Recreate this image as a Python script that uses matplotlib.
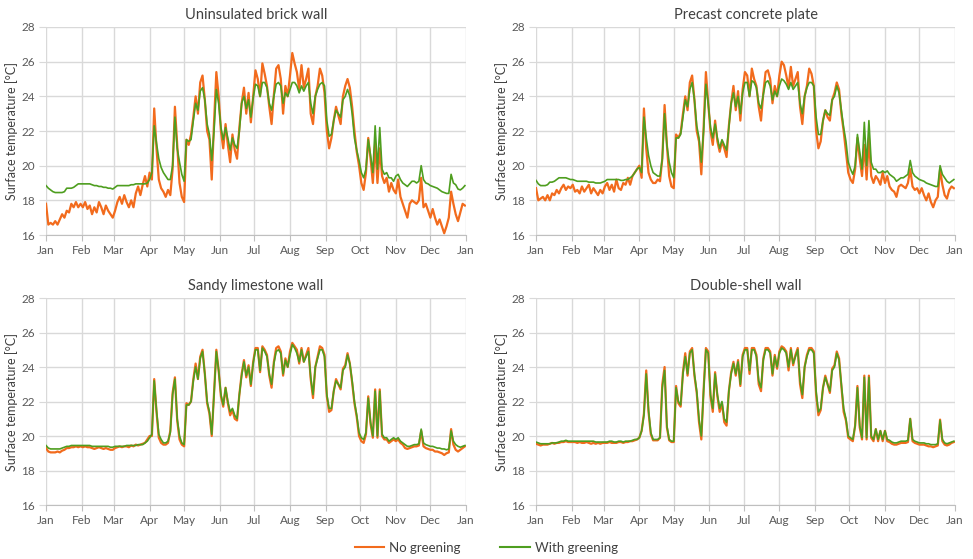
import numpy as np
import matplotlib
matplotlib.use("Agg")
import matplotlib.pyplot as plt
from matplotlib.lines import Line2D

plt.rcParams['font.family'] = ['Lato', 'DejaVu Sans']

# surface temperatures, one value every 2 days (day 0, 2, ..., 364)
brick_no = [
    17.8, 16.6, 16.7, 16.6, 16.8, 16.6, 16.9, 17.2, 17.0, 17.4, 17.3, 17.8, 17.6, 17.9, 17.6,
    17.8, 17.6, 17.9, 17.5, 17.7, 17.2, 17.6, 17.3, 17.9, 17.6, 17.2, 17.7, 17.4, 17.2, 17.0,
    17.4, 17.9, 18.2, 17.8, 18.3, 17.9, 17.6, 18.0, 17.6, 18.4, 18.8, 18.3, 18.9, 19.4, 18.8,
    19.6, 19.2, 23.3, 21.0, 19.2, 18.7, 18.5, 18.2, 18.6, 18.3, 19.8, 23.4, 21.2, 19.0, 18.2,
    17.9, 21.5, 21.2, 21.8, 22.8, 24.0, 23.0, 24.8, 25.2, 23.8, 22.0, 21.5, 19.2, 22.5, 25.4,
    24.0, 22.0, 21.0, 22.4, 21.2, 20.2, 21.8, 20.9, 20.4, 22.2, 23.6, 24.5, 23.0, 24.2, 22.5,
    24.0, 25.5, 25.0, 24.0, 25.9, 25.3, 24.6, 23.4, 22.4, 24.1, 25.6, 25.8, 25.0, 23.0, 24.6,
    24.0, 25.2, 26.5, 25.9, 25.4, 24.4, 25.8, 24.5, 25.0, 25.6, 23.0, 22.4, 24.0, 24.6, 25.6,
    25.2, 24.2, 22.0, 21.0, 21.6, 22.6, 23.4, 22.9, 22.4, 24.0, 24.6, 25.0, 24.5, 23.4, 22.0,
    20.8, 20.0, 19.0, 18.6, 19.6, 21.6, 20.4, 19.0, 21.3, 19.0, 21.0, 19.4, 19.0, 19.3, 18.5,
    19.0, 18.6, 18.4, 19.2, 18.2, 17.8, 17.4, 17.0, 17.8, 18.0, 17.9, 17.8, 18.0, 19.3, 17.6,
    17.8, 17.4, 17.0, 17.5, 17.0, 16.6, 16.9, 16.5, 16.1, 16.5, 17.0, 18.5, 17.8, 17.2, 16.8,
    17.3, 17.8, 17.7]
brick_green = [
    18.85, 18.7, 18.6, 18.5, 18.45, 18.45, 18.45, 18.45, 18.5, 18.7, 18.7, 18.7, 18.75, 18.85, 18.95,
    18.95, 18.95, 18.95, 18.95, 18.95, 18.9, 18.85, 18.85, 18.8, 18.8, 18.75, 18.75, 18.7, 18.7, 18.65,
    18.75, 18.85, 18.85, 18.85, 18.85, 18.85, 18.85, 18.9, 18.9, 18.95, 18.95, 18.95, 18.95, 18.95, 19.0,
    19.2, 19.6, 22.3, 21.3, 20.4, 19.9, 19.6, 19.4, 19.2, 19.2, 20.0, 22.8, 21.0, 20.2, 19.5,
    19.1, 21.5, 21.4, 21.5, 22.6, 23.6, 23.2, 24.3, 24.5, 23.8, 22.4, 21.8, 20.3, 22.0, 24.4,
    23.6, 22.2, 21.5, 22.2, 21.6, 20.9, 21.6, 21.2, 21.0, 22.0, 23.6, 24.0, 23.3, 23.8, 22.8,
    23.9, 24.7, 24.6, 24.0, 24.8, 24.8, 24.5, 23.6, 23.2, 24.0, 24.7, 24.8, 24.6, 23.6, 24.2,
    24.0, 24.4, 24.8, 24.8, 24.6, 24.2, 24.6, 24.3, 24.6, 24.8, 23.6, 23.0, 24.0, 24.4, 24.7,
    24.8, 24.6, 22.6, 21.7, 21.8, 22.6, 23.2, 23.0, 22.8, 23.8, 24.0, 24.4, 24.0, 23.0, 21.6,
    20.9, 20.3, 19.6, 19.3, 19.8, 21.5, 20.6, 19.6, 22.3, 19.8, 22.2, 19.8, 19.5, 19.6, 19.3,
    19.3, 19.1, 19.4, 19.5, 19.2, 19.0, 18.9, 18.8, 18.95, 19.1, 19.1, 19.0, 19.1, 20.0, 19.2,
    19.0, 18.95, 18.85, 18.8, 18.75, 18.7, 18.6, 18.5, 18.45, 18.4, 18.4, 19.5, 19.0, 18.9, 18.65,
    18.6, 18.7, 18.85]

concrete_no = [
    18.7, 18.0, 18.1, 18.2, 18.0, 18.3, 18.0, 18.4, 18.3, 18.6, 18.4, 18.7, 18.9, 18.6, 18.8,
    18.7, 18.9, 18.5, 18.6, 18.4, 18.8, 18.5, 18.7, 18.9, 18.4, 18.7, 18.5, 18.3, 18.6, 18.4,
    18.8, 19.0, 18.6, 18.9, 18.5, 19.2, 18.7, 18.6, 19.0, 18.9, 19.3, 18.9, 19.4, 19.6, 19.8,
    20.0, 19.3, 23.3, 21.0, 19.6, 19.2, 19.0, 19.0, 19.2, 19.1, 20.4, 23.5, 21.2, 19.4, 18.8,
    18.7, 21.8, 21.6, 21.9, 23.0, 24.0, 23.2, 24.8, 25.2, 23.8, 22.0, 21.4, 19.5, 22.2, 25.4,
    23.6, 22.0, 21.2, 22.6, 21.4, 20.8, 21.4, 21.0, 20.5, 22.3, 23.6, 24.6, 23.2, 24.3, 22.6,
    24.4, 25.4, 25.2, 24.0, 25.6, 25.0, 24.6, 23.4, 22.6, 24.2, 25.4, 25.5, 25.0, 23.6, 24.6,
    24.0, 25.2, 26.0, 25.8, 25.2, 24.5, 25.7, 24.6, 25.0, 25.4, 23.4, 22.4, 24.0, 24.6, 25.6,
    25.3, 24.6, 22.0, 21.0, 21.4, 22.6, 23.2, 22.8, 22.6, 23.8, 24.2, 24.8, 24.4, 23.0, 22.0,
    20.8, 19.6, 19.2, 19.0, 19.8, 21.6, 20.4, 19.4, 21.2, 19.2, 21.6, 19.4, 19.0, 19.4, 19.2,
    18.9, 19.6, 19.0, 19.4, 18.8, 18.6, 18.5, 18.2, 18.8, 18.9, 18.8, 18.7, 19.0, 19.8, 18.8,
    18.6, 18.7, 18.4, 18.7, 18.3, 18.0, 18.4, 17.9, 17.6, 18.0, 18.2, 19.8, 18.9, 18.3, 18.1,
    18.6, 18.8, 18.7]
concrete_green = [
    19.15, 18.95, 18.85, 18.85, 18.85, 18.9, 19.05, 19.05, 19.1, 19.2, 19.3, 19.3, 19.3, 19.3, 19.25,
    19.2, 19.2, 19.15, 19.1, 19.1, 19.1, 19.1, 19.1, 19.05, 19.05, 19.05, 19.0, 19.0, 19.0, 19.05,
    19.1, 19.2, 19.2, 19.2, 19.2, 19.2, 19.2, 19.15, 19.15, 19.2, 19.2, 19.3, 19.4, 19.6, 19.8,
    19.9, 19.6, 22.8, 21.6, 20.6, 20.0, 19.6, 19.5, 19.4, 19.4, 20.4, 23.0, 21.2, 20.2, 19.6,
    19.3, 21.6, 21.6, 21.8, 22.8, 23.8, 23.4, 24.4, 24.8, 23.8, 22.3, 21.6, 20.2, 22.0, 24.7,
    23.6, 22.2, 21.6, 22.4, 21.6, 21.0, 21.5, 21.2, 20.9, 22.2, 23.6, 24.2, 23.4, 24.0, 23.0,
    24.2, 24.8, 24.8, 24.0, 24.9, 24.8, 24.5, 23.6, 23.3, 24.1, 24.8, 24.9, 24.6, 23.8, 24.3,
    24.0, 24.6, 25.0, 24.9, 24.7, 24.4, 24.8, 24.4, 24.6, 24.8, 23.6, 23.0, 24.0, 24.5, 24.8,
    24.8, 24.6, 22.8, 21.8, 21.8, 22.6, 23.2, 23.0, 22.9, 23.8, 24.0, 24.6, 24.2, 23.2, 22.2,
    21.4, 20.2, 19.8, 19.5, 20.0, 21.8, 20.8, 19.8, 22.5, 20.0, 22.6, 20.2, 19.8, 19.8, 19.6,
    19.6, 19.7, 19.6, 19.7, 19.5, 19.4, 19.3, 19.1, 19.2, 19.3, 19.3, 19.4, 19.5, 20.3, 19.6,
    19.4, 19.3, 19.2, 19.15, 19.1, 19.0, 18.95, 18.9, 18.85, 18.8, 18.8, 20.0, 19.5, 19.3, 19.1,
    19.0, 19.1, 19.2]

limestone_no = [
    19.3, 19.1, 19.05, 19.05, 19.05, 19.1, 19.05, 19.15, 19.2, 19.3, 19.3, 19.35, 19.35, 19.4, 19.35,
    19.4, 19.35, 19.4, 19.35, 19.35, 19.3, 19.25, 19.3, 19.35, 19.3, 19.25, 19.3, 19.25, 19.2, 19.2,
    19.3, 19.35, 19.4, 19.35, 19.4, 19.4, 19.35, 19.45, 19.4, 19.5, 19.45, 19.5, 19.55, 19.6, 19.8,
    20.0, 20.0, 23.3, 21.4, 19.9, 19.6, 19.5, 19.5, 19.6, 20.3, 22.5, 23.4, 20.9, 19.8, 19.5,
    19.4, 21.9, 21.8, 22.0, 23.3, 24.2, 23.3, 24.6, 25.0, 23.6, 21.9, 21.3, 20.0, 22.5, 25.0,
    23.8, 22.3, 21.7, 22.8, 21.9, 21.2, 21.5, 21.0, 20.9, 22.4, 23.6, 24.4, 23.4, 24.1, 22.9,
    24.3, 25.1, 25.1, 23.7, 25.2, 25.0, 24.7, 23.5, 22.8, 24.3, 25.1, 25.2, 24.9, 23.5, 24.5,
    24.0, 24.9, 25.4, 25.2, 25.0, 24.2, 25.1, 24.3, 24.7, 25.1, 23.3, 22.2, 24.0, 24.6, 25.2,
    25.1, 24.7, 22.3, 21.4, 21.5, 22.6, 23.3, 23.0, 22.7, 23.9, 24.1, 24.8, 24.2, 23.1, 21.9,
    21.1, 20.0, 19.7, 19.6, 20.1, 22.3, 20.7, 19.9, 22.7, 19.9, 22.7, 20.0, 19.8, 19.8, 19.6,
    19.7, 19.8, 19.7, 19.8, 19.6, 19.5, 19.3, 19.25, 19.3, 19.35, 19.4, 19.4, 19.45, 20.3, 19.4,
    19.3, 19.25, 19.2, 19.2, 19.1, 19.1, 19.05, 19.0, 18.9, 19.0, 19.05, 20.4, 19.5, 19.2, 19.1,
    19.2, 19.3, 19.4]
limestone_green = [
    19.45, 19.3, 19.25, 19.25, 19.25, 19.25, 19.25, 19.3, 19.35, 19.4, 19.4, 19.45, 19.45, 19.45, 19.45,
    19.45, 19.45, 19.45, 19.45, 19.45, 19.4, 19.4, 19.4, 19.4, 19.4, 19.4, 19.4, 19.4, 19.35, 19.35,
    19.4, 19.4, 19.4, 19.4, 19.4, 19.45, 19.45, 19.45, 19.45, 19.45, 19.5, 19.5, 19.5, 19.6, 19.7,
    19.9, 20.1, 23.2, 21.5, 20.1, 19.8, 19.6, 19.6, 19.7, 20.2, 22.4, 23.3, 21.0, 20.0, 19.6,
    19.5, 21.8, 21.8, 22.0, 23.2, 24.0, 23.3, 24.5, 24.9, 23.6, 22.0, 21.4, 20.1, 22.4, 24.9,
    23.8, 22.4, 21.8, 22.8, 22.0, 21.4, 21.6, 21.2, 21.0, 22.4, 23.5, 24.3, 23.5, 24.0, 23.0,
    24.2, 25.0, 25.0, 23.8, 25.1, 24.9, 24.6, 23.6, 23.0, 24.2, 24.9, 25.0, 24.8, 23.6, 24.4,
    24.0, 24.7, 25.3, 25.1, 24.8, 24.3, 25.0, 24.3, 24.6, 24.9, 23.4, 22.4, 24.0, 24.5, 25.0,
    25.0, 24.6, 22.4, 21.6, 21.6, 22.6, 23.2, 23.0, 22.8, 23.8, 24.0, 24.7, 24.2, 23.2, 22.0,
    21.2, 20.2, 19.9, 19.8, 20.2, 22.2, 20.8, 20.0, 22.6, 20.0, 22.6, 20.1, 19.9, 19.9, 19.7,
    19.8, 19.9, 19.8, 19.9, 19.7, 19.6, 19.5, 19.4, 19.4, 19.45, 19.5, 19.5, 19.55, 20.4, 19.6,
    19.5, 19.45, 19.4, 19.4, 19.35, 19.3, 19.3, 19.25, 19.25, 19.2, 19.25, 20.3, 19.7, 19.5, 19.4,
    19.35, 19.4, 19.45]

double_no = [
    19.55, 19.5, 19.45, 19.5, 19.5, 19.5, 19.55, 19.6, 19.55, 19.6, 19.6, 19.65, 19.65, 19.7, 19.65,
    19.65, 19.65, 19.65, 19.6, 19.65, 19.6, 19.6, 19.65, 19.6, 19.55, 19.6, 19.55, 19.6, 19.55, 19.6,
    19.6, 19.6, 19.65, 19.6, 19.6, 19.6, 19.65, 19.65, 19.6, 19.65, 19.65, 19.7, 19.7, 19.75, 19.8,
    19.9, 20.3, 21.3, 23.8, 21.4, 20.1, 19.75, 19.75, 19.75, 19.9, 23.0, 24.0, 20.5, 19.75, 19.65,
    19.65, 22.9, 21.9, 21.7, 23.7, 24.8, 23.5, 24.9, 25.1, 23.5, 22.5, 20.8, 19.8, 22.7, 25.1,
    24.9, 22.3, 21.4, 23.7, 22.3, 21.4, 21.9, 20.8, 20.6, 22.6, 23.7, 24.3, 23.5, 24.4, 22.9,
    24.7, 25.1, 25.1, 23.6, 25.1, 25.1, 24.7, 23.0, 22.6, 24.5, 25.1, 25.1, 24.9, 23.5, 24.7,
    23.9, 24.9, 25.2, 25.1, 24.9, 23.8, 25.1, 24.1, 24.7, 25.1, 23.0, 22.2, 24.0, 24.7, 25.1,
    25.1, 24.9, 22.4, 21.2, 21.5, 22.8, 23.5, 23.0, 22.5, 23.9, 24.1, 24.9, 24.5, 22.9, 21.4,
    20.9, 19.9, 19.8, 19.7, 20.6, 22.9, 20.5, 19.8, 23.5, 19.8, 23.5, 19.9, 19.7, 20.4, 19.7,
    20.3, 19.7, 20.3, 19.7, 19.65, 19.55, 19.5, 19.5, 19.55, 19.6, 19.6, 19.6, 19.65, 21.0, 19.7,
    19.6, 19.55, 19.5, 19.5, 19.5, 19.45, 19.4, 19.4, 19.35, 19.4, 19.45, 20.95, 19.7, 19.5, 19.45,
    19.5, 19.6, 19.65]
double_green = [
    19.65, 19.6, 19.55, 19.55, 19.55, 19.55, 19.55, 19.6, 19.6, 19.6, 19.65, 19.7, 19.7, 19.75, 19.7,
    19.7, 19.7, 19.7, 19.7, 19.7, 19.7, 19.7, 19.7, 19.7, 19.7, 19.7, 19.65, 19.65, 19.65, 19.65,
    19.65, 19.65, 19.7, 19.7, 19.65, 19.65, 19.7, 19.7, 19.65, 19.7, 19.7, 19.7, 19.75, 19.8, 19.8,
    19.9, 20.3, 21.2, 23.6, 21.5, 20.2, 19.8, 19.8, 19.8, 19.9, 22.8, 23.8, 20.6, 19.8, 19.7,
    19.7, 22.8, 22.0, 21.8, 23.6, 24.6, 23.6, 24.8, 25.0, 23.6, 22.6, 21.0, 20.0, 22.6, 25.0,
    24.8, 22.4, 21.6, 23.6, 22.4, 21.6, 22.0, 21.0, 20.8, 22.6, 23.6, 24.2, 23.6, 24.3, 23.0,
    24.6, 25.0, 25.0, 23.8, 25.0, 25.0, 24.6, 23.2, 22.8, 24.4, 25.0, 25.0, 24.8, 23.6, 24.6,
    24.0, 24.8, 25.1, 25.0, 24.8, 24.0, 25.0, 24.2, 24.6, 25.0, 23.2, 22.4, 24.0, 24.6, 25.0,
    25.0, 24.8, 22.6, 21.4, 21.6, 22.8, 23.4, 23.0, 22.6, 23.8, 24.0, 24.8, 24.4, 23.0, 21.6,
    21.0, 20.0, 19.9, 19.8, 20.6, 22.8, 20.6, 19.9, 23.4, 19.9, 23.4, 20.0, 19.8, 20.4, 19.8,
    20.3, 19.8, 20.3, 19.8, 19.75, 19.65, 19.6, 19.6, 19.65, 19.7, 19.7, 19.7, 19.75, 21.0, 19.8,
    19.7, 19.65, 19.6, 19.6, 19.6, 19.55, 19.55, 19.5, 19.5, 19.5, 19.55, 20.9, 19.8, 19.6, 19.55,
    19.6, 19.65, 19.7]

month_days = [0, 31, 59, 90, 120, 151, 181, 212, 243, 273, 304, 334, 365]
month_labels = ["Jan", "Feb", "Mar", "Apr", "May", "Jun", "Jul", "Aug", "Sep",
                "Oct", "Nov", "Dec", "Jan"]

panels = [
    ("Uninsulated brick wall", brick_no, brick_green),
    ("Precast concrete plate", concrete_no, concrete_green),
    ("Sandy limestone wall", limestone_no, limestone_green),
    ("Double-shell wall", double_no, double_green),
]

ORANGE = "#f26b1d"
GREEN = "#4e9e1f"
GRID = "#d9d9d9"
TXT = "#595959"

fig = plt.figure(figsize=(9.73, 5.59), dpi=100)
boxes = [
    (0.0473, 0.5796, 0.4317, 0.3721),
    (0.5509, 0.5796, 0.4306, 0.3721),
    (0.0473, 0.0966, 0.4317, 0.3703),
    (0.5509, 0.0966, 0.4306, 0.3703),
]

for (title, y_no, y_gr), box in zip(panels, boxes):
    ax = fig.add_axes(box)
    ax.plot(2 * np.arange(len(y_no)), y_no, color=ORANGE, lw=1.6)
    ax.plot(2 * np.arange(len(y_gr)), y_gr, color=GREEN, lw=1.2)
    ax.set_xlim(0, 365)
    ax.set_ylim(16, 28)
    ax.set_yticks(range(16, 29, 2))
    ax.set_xticks(month_days)
    ax.set_xticklabels(month_labels)
    ax.grid(True, color=GRID, lw=1)
    ax.set_axisbelow(True)
    for s in ["top", "right", "left"]:
        ax.spines[s].set_visible(False)
    ax.spines["bottom"].set_color("#bfbfbf")
    ax.tick_params(axis="x", colors="#bfbfbf", labelcolor=TXT, labelsize=8.5,
                   length=4, pad=3)
    ax.tick_params(axis="y", colors=GRID, labelcolor=TXT, labelsize=8.5,
                   length=5, pad=3)
    ax.set_title(title, fontsize=10.5, color="#404040", pad=6)
    ax.set_ylabel("Surface temperature [°C]", fontsize=9, color="#404040", labelpad=2)

handles = [Line2D([], [], color=ORANGE, lw=1.5), Line2D([], [], color=GREEN, lw=1.5)]
fig.legend(handles, ["No greening", "With greening"], loc="lower center",
           bbox_to_anchor=(0.5, -0.012), ncol=2, frameon=False, fontsize=9.5,
           handlelength=2.2, columnspacing=3, handletextpad=0.4,
           labelcolor="#404040")

fig.savefig("out.png", dpi=100)
